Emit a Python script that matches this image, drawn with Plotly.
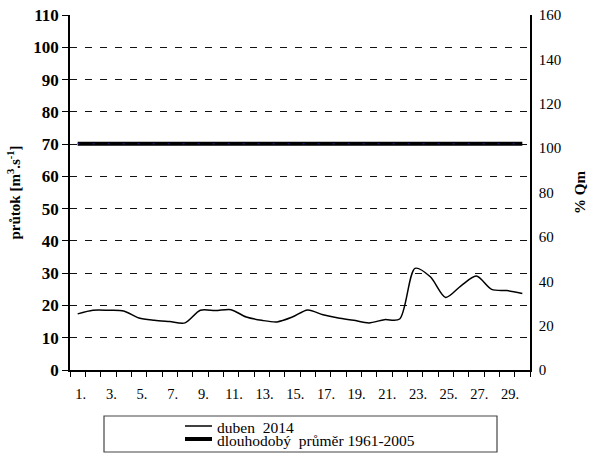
import plotly.graph_objects as go

# Daily discharge, April 2014 [m3/s]
days = list(range(1, 31))
flow_2014 = [17.4, 18.5, 18.5, 18.3, 16.1, 15.4, 15.0, 14.6, 18.5, 18.4,
             18.7, 16.4, 15.4, 14.9, 16.4, 18.6, 17.1, 16.1, 15.4, 14.6,
             15.6, 15.8, 31.5, 28.9, 22.5, 26.1, 29.1, 25.0, 24.6, 23.7]
# Long-term mean discharge 1961-2005 [m3/s]
mean_value = 70.1
mean_flow = [mean_value] * len(days)

series_names = ["duben\u00a0 2014", "dlouhodobý\u00a0 průměr 1961-2005"]

odd_days = [d for d in days if d % 2 == 1]
odd_labels = [f"{d}." for d in odd_days]

serif = "Liberation Serif"

fig = go.Figure()
fig.add_trace(go.Scatter(
    x=days, y=flow_2014, mode="lines", name=series_names[0], showlegend=False,
    line=dict(color="black", width=1.5, shape="spline", smoothing=0.8),
))
fig.add_trace(go.Scatter(
    x=days, y=mean_flow, mode="lines", name=series_names[1], showlegend=False,
    line=dict(color="black", width=4),
))
fig.add_trace(go.Scatter(
    x=days, y=mean_flow, mode="lines", showlegend=False, hoverinfo="skip",
    line=dict(color="#1c1c9c", width=1, dash="2px,13px"),
))
# keeps the secondary (% Qm) axis active
fig.add_trace(go.Scatter(
    x=days, y=mean_flow, mode="lines", yaxis="y2", opacity=0,
    showlegend=False, hoverinfo="skip", line=dict(width=0),
))

grid = dict(showgrid=True, gridcolor="#111111", gridwidth=1, griddash="7px,8px")

# legend box drawn in pixel terms relative to the plot area
L, R, T, B = 70, 530, 15, 370
def px(x):
    return (x - L) / (R - L)
def py(y):
    return (B - y) / (B - T)

legend_shapes = [
    dict(type="rect", xref="paper", yref="paper",
         x0=px(104), x1=px(497), y0=py(452), y1=py(416),
         line=dict(color="#444444", width=1.2), fillcolor="rgba(0,0,0,0)"),
    dict(type="line", xref="paper", yref="paper",
         x0=px(185), x1=px(212), y0=py(426), y1=py(426),
         line=dict(color="black", width=1.5)),
    dict(type="line", xref="paper", yref="paper",
         x0=px(185), x1=px(212), y0=py(439), y1=py(439),
         line=dict(color="black", width=4)),
]
legend_texts = [
    dict(text=series_names[0], xref="paper", yref="paper", x=px(215), y=py(427.5),
         xanchor="left", yanchor="middle", showarrow=False,
         font=dict(family=serif, size=15.5, color="black")),
    dict(text=series_names[1], xref="paper", yref="paper", x=px(215), y=py(440.5),
         xanchor="left", yanchor="middle", showarrow=False,
         font=dict(family=serif, size=15.5, color="black")),
]

fig.update_layout(
    width=590, height=454,
    margin=dict(l=70, r=60, t=15, b=84, autoexpand=False),
    paper_bgcolor="white", plot_bgcolor="white",
    font=dict(family=serif, color="black", size=14),
    xaxis=dict(
        range=[0.5, 30.5], tickmode="array", tickvals=odd_days, ticktext=odd_labels,
        ticks="", showline=True, linecolor="black", linewidth=1.5,
        showgrid=False, zeroline=False, tickfont=dict(size=14.5, family=serif),
        ticklabelshift=3, ticklabelstandoff=10,
        minor=dict(tick0=0.5, dtick=1, ticks="outside", ticklen=5,
                   tickcolor="black", tickwidth=1, showgrid=False),
    ),
    yaxis=dict(
        range=[0, 110], dtick=10, ticks="outside", ticklen=6, tickcolor="black",
        showline=True, linecolor="black", linewidth=1.5, zeroline=False,
        tickfont=dict(size=17, family=serif, weight="bold"),
        title=dict(text="průtok [m<sup>3</sup>.s<sup>-1</sup>]",
                   font=dict(size=15, family=serif, weight="bold"), standoff=9),
        **grid,
    ),
    yaxis2=dict(
        range=[0, 160], dtick=20, overlaying="y", side="right",
        showline=True, linecolor="black", linewidth=1.5, showgrid=False,
        zeroline=False, ticks="", tickfont=dict(size=15, family=serif),
        ticklabelstandoff=4,
        title=dict(text="% Qm", font=dict(size=15, family=serif, weight="bold"),
                   standoff=14),
    ),
    shapes=legend_shapes,
    annotations=legend_texts,
)

fig.write_html("out.html")
